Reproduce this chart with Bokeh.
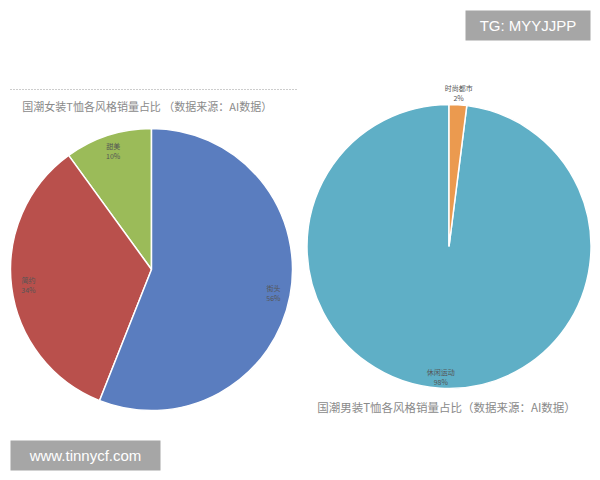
import math
from bokeh.plotting import figure
from bokeh.models import Range1d, ColumnDataSource
from bokeh.core.properties import value
from bokeh.embed import file_html
from bokeh.resources import INLINE

# ---- data ----
women_cats = ["甜美", "简约", "街头"]
women_vals = [10, 34, 56]
women_colors = ["#9bbb59", "#b9504c", "#5a7dbf"]
women_title = "国潮女装T恤各风格销量占比  （数据来源：AI数据）"

men_cats = ["休闲运动", "时尚都市"]
men_vals = [98, 2]
men_colors = ["#5fafc6", "#eb9a4f"]
men_title = "国潮男装T恤各风格销量占比（数据来源：AI数据）"

tag_top = "TG: MYYJJPP"
tag_bottom = "www.tinnycf.com"

W, H = 600, 480
p = figure(width=W, height=H, x_range=Range1d(0, 600), y_range=Range1d(0, 480),
           output_backend="svg", toolbar_location=None, min_border=0)
p.axis.visible = False
p.grid.visible = False
p.outline_line_color = None
p.background_fill_color = "white"
p.border_fill_color = "white"

FONT = value("Noto Sans CJK SC")


def pie(cx, cy, r, vals, cats, colors, start_deg, ccw, label_r, label_out=None):
    total = float(sum(vals))
    starts, ends, xs, ys, txt1, txt2 = [], [], [], [], [], []
    a = math.radians(start_deg)
    for v, c in zip(vals, cats):
        span = 2 * math.pi * v / total
        if ccw:
            s, e = a, a + span
        else:
            s, e = a - span, a
        starts.append(s)
        ends.append(e)
        mid = (s + e) / 2
        f = label_r
        if label_out and c in label_out:
            f = label_out[c]
        xs.append(cx + f * r * math.cos(mid))
        ys.append(cy + f * r * math.sin(mid))
        txt1.append(c)
        txt2.append(f"{v}%")
        a = e if ccw else s
    src = ColumnDataSource(dict(s=starts, e=ends, color=colors))
    p.wedge(x=cx, y=cy, radius=r, start_angle="s", end_angle="e",
            fill_color="color", line_color="white", line_width=1.5, source=src)
    p.text(x=xs, y=[y + 5 for y in ys], text=txt1, text_font=FONT, text_font_size="7px",
           text_color="#555555", text_align="center", text_baseline="middle")
    p.text(x=xs, y=[y - 5 for y in ys], text=txt2, text_font=FONT, text_font_size="7px",
           text_color="#555555", text_align="center", text_baseline="middle")


# women pie (left): starts at 12 o'clock, goes counter-clockwise with green first
pie(151, 211, 141, women_vals, women_cats, women_colors, 90, True, 0.88)
# men pie (right)
pie(448.5, 234, 142, men_vals, men_cats, men_colors, 90 - 360 * men_vals[1] / 100.0, False, 0.92,
    label_out={"时尚都市": 1.08})

# titles
p.line(x=[10, 296], y=[391, 391], line_color="#9a9a9a", line_width=1, line_dash="1 2")
p.text(x=[148], y=[375], text=[women_title], text_font=FONT, text_font_size="11px",
       text_color="#8a8a8a", text_align="center", text_baseline="middle")
p.text(x=[446], y=[74], text=[men_title], text_font=FONT, text_font_size="11.5px",
       text_color="#8a8a8a", text_align="center", text_baseline="middle")

# watermark boxes
p.quad(left=[465], right=[590], bottom=[440], top=[470], fill_color="#a6a6a6", line_color=None)
p.text(x=[527.5], y=[455], text=[tag_top], text_font=value("Liberation Sans"), text_font_size="15px",
       text_color="white", text_align="center", text_baseline="middle")
p.quad(left=[10], right=[160], bottom=[10], top=[40], fill_color="#a6a6a6", line_color=None)
p.text(x=[85], y=[25], text=[tag_bottom], text_font=value("Liberation Sans"), text_font_size="15px",
       text_color="white", text_align="center", text_baseline="middle")

open("out.html", "w").write(file_html(p, INLINE))
